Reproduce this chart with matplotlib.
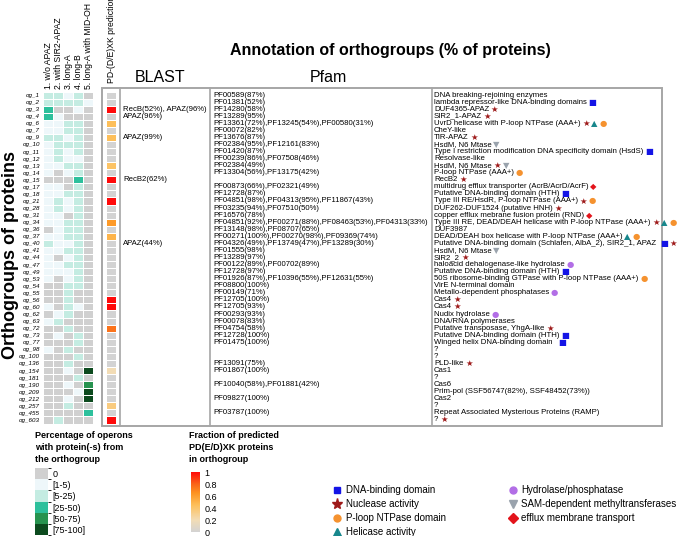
import numpy as np
import matplotlib
matplotlib.use('Agg')
import matplotlib.pyplot as plt
from matplotlib.colors import ListedColormap, BoundaryNorm, LinearSegmentedColormap
from matplotlib.cm import ScalarMappable
from matplotlib.lines import Line2D
from matplotlib.patches import Rectangle

plt.rcParams['font.family'] = ['Liberation Sans', 'DejaVu Sans']

groups = ['og_1', 'og_2', 'og_3', 'og_4', 'og_6', 'og_7', 'og_9', 'og_10', 'og_11', 'og_12',
          'og_13', 'og_14', 'og_15', 'og_17', 'og_18', 'og_21', 'og_28', 'og_31', 'og_34', 'og_36',
          'og_37', 'og_40', 'og_41', 'og_44', 'og_47', 'og_49', 'og_53', 'og_54', 'og_55', 'og_56',
          'og_60', 'og_62', 'og_63', 'og_72', 'og_73', 'og_77', 'og_98', 'og_100', 'og_136', 'og_154',
          'og_181', 'og_190', 'og_209', 'og_212', 'og_257', 'og_455', 'og_603']

col_labels = ['1. w/o APAZ', '2. with SIR2-APAZ', '3. long-A', '4. long-B', '5. long-A with MID-OH']

# operon percentage category: 0 -> 0, 1 -> [1-5), 2 -> [5-25), 3 -> [25-50), 4 -> [50-75), 5 -> [75-100]
operon_cat = [
    [2, 2, 1, 2, 0], [2, 2, 2, 2, 1], [3, 0, 0, 1, 0], [3, 1, 0, 0, 0], [1, 1, 2, 2, 0],
    [1, 1, 2, 2, 0], [2, 2, 1, 2, 0], [1, 2, 2, 2, 0], [1, 2, 1, 2, 0], [1, 2, 1, 1, 0],
    [1, 1, 2, 2, 0], [1, 0, 1, 2, 0], [0, 0, 0, 3, 0], [1, 1, 0, 2, 0], [1, 1, 2, 2, 0],
    [1, 2, 1, 2, 0], [1, 2, 1, 2, 0], [1, 1, 0, 2, 0], [1, 1, 2, 2, 0], [0, 1, 2, 2, 0],
    [1, 1, 2, 2, 0], [2, 1, 1, 2, 0], [1, 1, 2, 2, 0], [1, 0, 1, 2, 0], [1, 1, 2, 2, 0],
    [1, 1, 1, 2, 0], [1, 0, 1, 2, 0], [0, 0, 2, 2, 0], [0, 0, 2, 0, 0], [0, 0, 2, 0, 0],
    [1, 0, 2, 1, 0], [0, 1, 2, 0, 0], [1, 2, 0, 0, 0], [0, 0, 2, 0, 0], [0, 1, 0, 2, 0],
    [0, 0, 0, 2, 0], [1, 0, 2, 0, 0], [0, 0, 0, 2, 0], [0, 0, 2, 0, 0], [0, 0, 1, 0, 5],
    [0, 0, 0, 2, 0], [0, 0, 1, 0, 4], [0, 0, 0, 1, 5], [0, 0, 1, 0, 5], [0, 0, 2, 0, 0],
    [0, 0, 0, 0, 3], [0, 2, 0, 0, 0]]
cat_labels = ['0', '[1-5)', '[5-25)', '[25-50)', '[50-75)', '[75-100]']

pd_frac = [0, 0, 1.0, 0, 0.45, 0, 0.45, 0, 0, 0,
           0.42, 0, 1.0, 0, 0, 1.0, 0, 0, 0.62, 0,
           0.5, 0, 0, 0, 0, 0, 0, 0, 0, 1.0,
           1.0, 0, 0, 0.75, 0, 0, 0, 0, 0, 0.2,
           0, 0, 0, 0, 0.35, 0, 1.0]

blast = [''] * len(groups)
blast[2] = 'RecB(52%), APAZ(96%)'
blast[3] = 'APAZ(96%)'
blast[6] = 'APAZ(99%)'
blast[12] = 'RecB2(62%)'
blast[21] = 'APAZ(44%)'

pfam = ['PF00589(87%)', 'PF01381(52%)', 'PF14280(58%)', 'PF13289(95%)',
        'PF13361(72%),PF13245(54%),PF00580(31%)', 'PF00072(82%)', 'PF13676(87%)',
        'PF02384(95%),PF12161(83%)', 'PF01420(87%)', 'PF00239(86%),PF07508(46%)',
        'PF02384(49%)', 'PF13304(56%),PF13175(42%)', '', 'PF00873(66%),PF02321(49%)',
        'PF12728(87%)', 'PF04851(98%),PF04313(95%),PF11867(43%)', 'PF03235(94%),PF07510(50%)',
        'PF16576(78%)', 'PF04851(92%),PF00271(88%),PF08463(53%),PF04313(33%)',
        'PF13148(98%),PF08707(65%)', 'PF00271(100%),PF00270(98%),PF09369(74%)',
        'PF04326(49%),PF13749(47%),PF13289(30%)', 'PF01555(98%)', 'PF13289(97%)',
        'PF00122(89%),PF00702(89%)', 'PF12728(97%)', 'PF01926(87%),PF10396(55%),PF12631(55%)',
        'PF08800(100%)', 'PF00149(71%)', 'PF12705(100%)', 'PF12705(93%)', 'PF00293(93%)',
        'PF00078(83%)', 'PF04754(58%)', 'PF12728(100%)', 'PF01475(100%)', '', '',
        'PF13091(75%)', 'PF01867(100%)', '', 'PF10040(58%),PF01881(42%)', '',
        'PF09827(100%)', '', 'PF03787(100%)', '']

annot = ['DNA breaking-rejoining enzymes', 'lambda repressor-like DNA-binding domains',
         'DUF4365-APAZ', 'SIR2_1-APAZ', 'UvrD helicase with P-loop NTPase (AAA+)', 'CheY-like',
         'TIR-APAZ', 'HsdM, N6 Mtase', 'Type I restriction modification DNA specificity domain (HsdS)',
         'Resolvase-like', 'HsdM, N6 Mtase', 'P-loop NTPase (AAA+)', 'RecB2',
         'multidrug efflux transporter (AcrB/AcrD/AcrF)', 'Putative DNA-binding domain (HTH)',
         'Type III RE/HsdR, P-loop NTPase (AAA+)', 'DUF262-DUF1524 (putative HNH)',
         'copper efflux mebrane fusion protein (RND)',
         'Type III RE, DEAD/DEAH helicase with P-loop NTPase (AAA+)', 'DUF3987',
         'DEAD/DEAH box helicase with P-loop NTPase (AAA+)',
         'Putative DNA-binding domain (Schlafen, AlbA_2), SIR2_1, APAZ ', 'HsdM, N6 Mtase',
         'SIR2_2', 'haloacid dehalogenase-like hydrolase', 'Putative DNA-binding domain (HTH)',
         '50S ribosome-binding GTPase with P-loop NTPase (AAA+)', 'VirE N-terminal domain',
         'Metallo-dependent phosphatases', 'Cas4', 'Cas4', 'Nudix hydrolase', 'DNA/RNA polymerases',
         'Putative transposase, YhgA-like', 'Putative DNA-binding domain (HTH)',
         'Winged helix DNA-binding domain  ', '?', '?', 'PLD-like', 'Cas1', '?', 'Cas6',
         'Prim-pol (SSF56747(82%), SSF48452(73%))', 'Cas2', '?',
         'Repeat Associated Mysterious Proteins (RAMP)', '?']

# D DNA-binding, N nuclease, P P-loop, H helicase, Y hydrolase, S SAM-MTase, E efflux
marks = ['', 'D', 'N', 'N', 'NHP', '', 'N', 'S', 'D', '', 'NS', 'P', 'N', 'E', 'D', 'NP', 'N',
         'E', 'NHP', '', 'HP', 'DN', 'S', 'N', 'Y', 'D', 'P', '', 'Y', 'N', 'N', 'Y', '', 'N',
         'D', 'D', '', '', 'N', '', '', '', '', '', '', '', 'N']

mark_names = ['DNA-binding domain', 'Nuclease activity', 'P-loop NTPase domain', 'Helicase activity',
              'Hydrolase/phosphatase', 'SAM-dependent methyltransferases', 'efflux membrane transport']
mark_codes = ['D', 'N', 'P', 'H', 'Y', 'S', 'E']
mark_colors = {'D': '#1414e6', 'N': '#9e1a1a', 'P': '#f5922f', 'H': '#17878c',
               'Y': '#b26ee6', 'S': '#9aa3ad', 'E': '#e3141b'}
mark_glyph = {'D': '\u25a0', 'N': '\u2605', 'P': '\u25cf', 'H': '\u25b2',
              'Y': '\u25cf', 'S': '\u25bc', 'E': '\u25c6'}
mark_marker = {'D': 's', 'N': '*', 'P': 'o', 'H': '^', 'Y': 'o', 'S': 'v', 'E': 'D'}
mark_msize = {'D': 5, 'N': 8, 'P': 5, 'H': 5.5, 'Y': 5, 'S': 5.5, 'E': 5}

op_colors = ['#d0d0d0', '#eef7fa', '#c4ece2', '#2dc09c', '#27934f', '#0c4a1e']

W, H = 686, 536
fig = plt.figure(figsize=(W / 100, H / 100), dpi=100)


def box(x0, y0, x1, y1):
    return [x0 / W, 1 - y1 / H, (x1 - x0) / W, (y1 - y0) / H]


n = len(groups)
top, bot = 91.5, 423.5

bg = fig.add_axes([0, 0, 1, 1])
bg.set_xlim(0, W)
bg.set_ylim(H, 0)
bg.axis('off')

# heatmap of operons
op_cmap = ListedColormap(op_colors)
op_norm = BoundaryNorm(np.arange(-0.5, 6.5, 1), 6)
axh = fig.add_axes(box(43, top, 93, bot))
axh.pcolormesh(np.array(operon_cat), cmap=op_cmap, norm=op_norm, edgecolors='white', linewidth=0.4)
axh.set_xlim(0, 5)
axh.set_ylim(n, 0)
axh.set_yticks(np.arange(n) + 0.5)
axh.set_yticklabels(groups, fontsize=4.5, style='italic')
axh.xaxis.tick_top()
axh.set_xticks(np.arange(5) + 0.5)
axh.set_xticklabels(col_labels, rotation=90, fontsize=6.2)
axh.tick_params(length=0, pad=2)
for s in axh.spines.values():
    s.set_visible(False)

# PD-(D/E)XK column
pd_cmap = LinearSegmentedColormap.from_list('pd', [(0, '#d3d3d3'), (0.2, '#f2dcb5'), (0.45, '#fdbf5a'),
                                                   (0.65, '#fd9320'), (0.8, '#fa6418'), (1.0, '#ff0a0a')])
axp = fig.add_axes(box(106, top, 116, bot))
axp.pcolormesh(np.array(pd_frac)[:, None], cmap=pd_cmap, vmin=0, vmax=1, edgecolors='white', linewidth=0.4)
axp.set_xlim(0, 1)
axp.set_ylim(n, 0)
axp.set_yticks([])
axp.xaxis.tick_top()
axp.set_xticks([0.5])
axp.set_xticklabels(['PD-(D/E)XK prediction'], rotation=90, fontsize=6.2)
axp.tick_params(length=0, pad=6)
for s in axp.spines.values():
    s.set_visible(False)

# table frame
fc = '#a6a6a6'
bg.add_patch(Rectangle((102, 88), 560, 338, fill=False, ec=fc, lw=1.4))
for xv in [120, 210, 432]:
    bg.plot([xv, xv], [88, 426], color=fc, lw=1.2)

bg.text(160, 77, 'BLAST', fontsize=11.5, ha='center', va='center')
bg.text(328, 77, 'Pfam', fontsize=11.5, ha='center', va='center')
bg.text(390, 50, 'Annotation of orthogroups (% of proteins)', fontsize=11.5, weight='bold',
        ha='center', va='center')
bg.text(11, 255, 'Orthogroups of proteins', rotation=90, fontsize=13, weight='bold',
        ha='center', va='center')

# table text
axt = fig.add_axes(box(0, top, W, bot))
axt.set_xlim(0, W)
axt.set_ylim(n - 0.5, -0.5)
axt.axis('off')
fs = 5.6
for i in range(n):
    if blast[i]:
        axt.text(123, i, blast[i], fontsize=fs, va='center')
    if pfam[i]:
        axt.text(213, i, pfam[i], fontsize=fs, va='center')
    prev = axt.text(434, i, annot[i], fontsize=fs, va='center')
    for c in marks[i]:
        prev = axt.annotate(mark_glyph[c], xy=(1, 0.5), xycoords=prev, xytext=(1.2, 0),
                            textcoords='offset points', va='center', ha='left', fontsize=6,
                            color=mark_colors[c], family='DejaVu Sans', annotation_clip=False)

# legend: percentage of operons
bg.text(35, 431, 'Percentage of operons\nwith protein(-s) from\nthe orthogroup', fontsize=6.5,
        weight='bold', va='top', linespacing=1.45)
cax1 = fig.add_axes(box(35, 468, 48, 535))
cb1 = fig.colorbar(ScalarMappable(norm=op_norm, cmap=op_cmap), cax=cax1, ticks=range(6), drawedges=True)
cb1.ax.set_yticklabels(cat_labels)
cax1.invert_yaxis()
cb1.outline.set_visible(False)
cb1.dividers.set_color('white')
cb1.dividers.set_linewidth(0.8)
cax1.tick_params(length=0, labelsize=6.5, pad=3)

# legend: PD fraction
bg.text(189, 431, 'Fraction of predicted\nPD(E/D)XK proteins\nin orthogroup', fontsize=6.5,
        weight='bold', va='top', linespacing=1.45)
cax2 = fig.add_axes(box(191, 472, 200, 532))
cb2 = fig.colorbar(ScalarMappable(norm=plt.Normalize(0, 1), cmap=pd_cmap), cax=cax2,
                   ticks=[0, 0.2, 0.4, 0.6, 0.8, 1])
cb2.ax.set_yticklabels(['0', '0.2', '0.4', '0.6', '0.8', '1'])
cb2.outline.set_visible(False)
cax2.tick_params(length=0, labelsize=6.5, pad=3)

# legend: annotation markers
handles = [Line2D([], [], ls='none', marker=mark_marker[c], color=mark_colors[c],
                  markersize=mark_msize[c], label=nm) for c, nm in zip(mark_codes, mark_names)]
bg.legend(handles=handles, ncol=2, loc='upper left', bbox_to_anchor=(332 / W, 1 - 485 / H),
          bbox_transform=fig.transFigure, frameon=False, fontsize=7, handlelength=1,
          handletextpad=0.4, columnspacing=6.4, labelspacing=0.42, borderpad=0, borderaxespad=0)

fig.savefig('out.png', dpi=100)
